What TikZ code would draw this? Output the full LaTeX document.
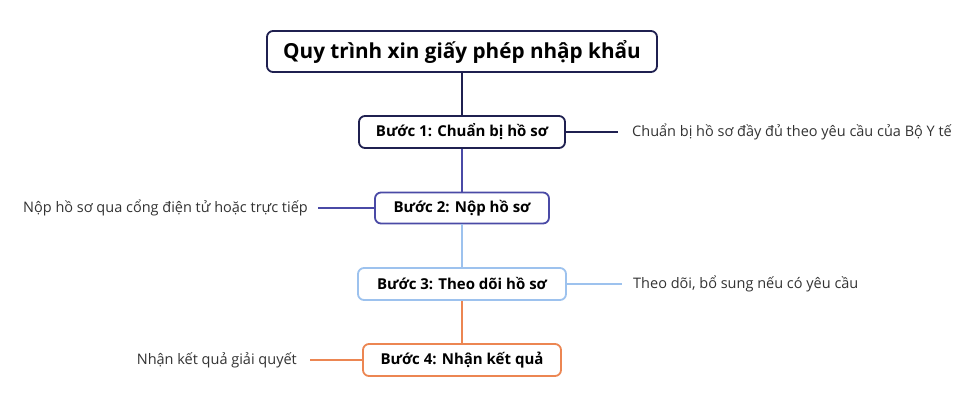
\documentclass[tikz,border=0pt]{standalone}
\usepackage{fontspec}
\setmainfont{Open Sans}
\definecolor{cnavy}{HTML}{1F2050}
\definecolor{cindigo}{HTML}{4A4AA6}
\definecolor{clight}{HTML}{9DC2EE}
\definecolor{corange}{HTML}{EC8652}
\definecolor{ctext}{HTML}{333333}
\begin{document}
\begin{tikzpicture}[x=1pt,y=-1pt,
  box/.style={draw, rounded corners=6pt, line width=1.8pt, fill=white, inner sep=0pt,
    font=\bfseries\fontsize{15}{18}\selectfont, text=black},
  lab/.style={inner ysep=0pt, font=\fontsize{14.5}{17}\selectfont, text=ctext},
  conn/.style={line width=1.8pt}]
\useasboundingbox[fill=white] (0,0) rectangle (975,405);
\node[box, draw=cnavy, minimum width=390, minimum height=41,
  font=\bfseries\fontsize{20.7}{25}\selectfont] (title) at (462,51.5) {Quy trình xin giấy phép nhập khẩu};
\node[box, draw=cnavy, minimum width=206, minimum height=32] (s1) at (462,132) {Bước 1: Chuẩn bị hồ sơ};
\node[box, draw=cindigo, minimum width=174, minimum height=31] (s2) at (462,208) {Bước 2: Nộp hồ sơ};
\node[box, draw=clight, minimum width=208, minimum height=32] (s3) at (462,284) {Bước 3: Theo dõi hồ sơ};
\node[box, draw=corange, minimum width=198, minimum height=32] (s4) at (462,360) {Bước 4: Nhận kết quả};
\node[lab, inner xsep=14pt, anchor=west] (l1) at (618,132) {Chuẩn bị hồ sơ đầy đủ theo yêu cầu của Bộ Y tế};
\node[lab, inner xsep=10pt, anchor=east] (l2) at (318,208) {Nộp hồ sơ qua cổng điện tử hoặc trực tiếp};
\node[lab, inner xsep=11pt, anchor=west] (l3) at (622,284) {Theo dõi, bổ sung nếu có yêu cầu};
\node[lab, inner xsep=13pt, anchor=east] (l4) at (310,360) {Nhận kết quả giải quyết};
\draw[conn, cnavy] (title.south) -- (s1.north);
\draw[conn, cindigo] (s1.south) -- (s2.north);
\draw[conn, clight] (s2.south) -- (s3.north);
\draw[conn, corange] (s3.south) -- (s4.north);
\draw[conn, cnavy] (s1.east) -- (l1.west);
\draw[conn, cindigo] (s2.west) -- (l2.east);
\draw[conn, clight] (s3.east) -- (l3.west);
\draw[conn, corange] (s4.west) -- (l4.east);
\end{tikzpicture}
\end{document}
